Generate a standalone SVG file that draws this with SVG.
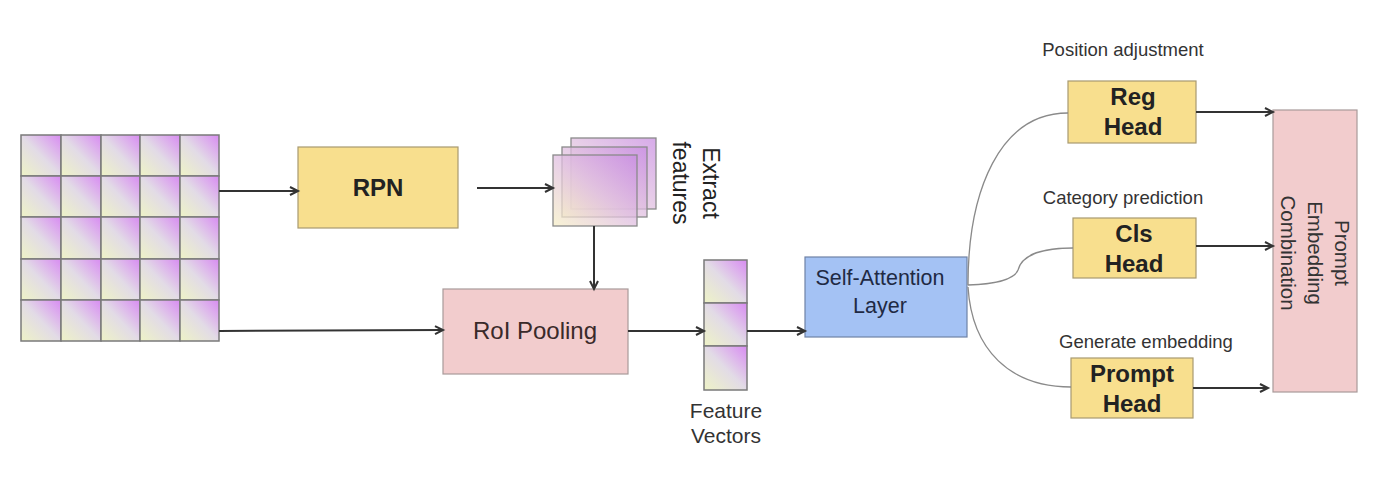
<svg xmlns="http://www.w3.org/2000/svg" width="1387" height="486" viewBox="0 0 1387 486">
<defs>
<linearGradient id="cellg" x1="0" y1="1" x2="1" y2="0">
<stop offset="0" stop-color="#eef3c6"/>
<stop offset="0.5" stop-color="#e2dbe6"/>
<stop offset="1" stop-color="#d88bf2"/>
</linearGradient>
<linearGradient id="frameg" x1="0" y1="1" x2="1" y2="0">
<stop offset="0" stop-color="#f6efc6"/>
<stop offset="0.5" stop-color="#e0bfe0"/>
<stop offset="1" stop-color="#c98ee2"/>
</linearGradient>
<marker id="arr" markerUnits="userSpaceOnUse" markerWidth="12" markerHeight="12" refX="9" refY="5" orient="auto">
<path d="M1,1 L9,5 L1,9" fill="none" stroke="#333" stroke-width="2"/>
</marker>
</defs>
<style>
.cell{fill:url(#cellg);stroke:#7a7a7a;stroke-width:1.5}
.frame{fill:url(#frameg);fill-opacity:0.75;stroke:#8a8a8a;stroke-width:1.3}
.yel{fill:#f8df8e;stroke:#a89a70;stroke-width:1.2}
.pink{fill:#f2cccd;stroke:#a89a9a;stroke-width:1.2}
.blue{fill:#a4c2f4;stroke:#6f82a6;stroke-width:1.2}
.t{font-family:"Liberation Sans",Arial,sans-serif;fill:#222;text-anchor:middle}
.b{font-weight:bold;font-size:24px}
.lab{font-size:18.5px;fill:#333}
.conn{fill:none;stroke:#333;stroke-width:2;marker-end:url(#arr)}
.curve{fill:none;stroke:#8a8a8a;stroke-width:1.3}
</style>
<rect width="1387" height="486" fill="#ffffff"/>

<g id="input-grid">
<rect class="cell" x="21" y="135" width="40" height="41"/>
<rect class="cell" x="61" y="135" width="40" height="41"/>
<rect class="cell" x="101" y="135" width="39" height="41"/>
<rect class="cell" x="140" y="135" width="40" height="41"/>
<rect class="cell" x="180" y="135" width="39" height="41"/>
<rect class="cell" x="21" y="176" width="40" height="41"/>
<rect class="cell" x="61" y="176" width="40" height="41"/>
<rect class="cell" x="101" y="176" width="39" height="41"/>
<rect class="cell" x="140" y="176" width="40" height="41"/>
<rect class="cell" x="180" y="176" width="39" height="41"/>
<rect class="cell" x="21" y="217" width="40" height="42"/>
<rect class="cell" x="61" y="217" width="40" height="42"/>
<rect class="cell" x="101" y="217" width="39" height="42"/>
<rect class="cell" x="140" y="217" width="40" height="42"/>
<rect class="cell" x="180" y="217" width="39" height="42"/>
<rect class="cell" x="21" y="259" width="40" height="41"/>
<rect class="cell" x="61" y="259" width="40" height="41"/>
<rect class="cell" x="101" y="259" width="39" height="41"/>
<rect class="cell" x="140" y="259" width="40" height="41"/>
<rect class="cell" x="180" y="259" width="39" height="41"/>
<rect class="cell" x="21" y="300" width="40" height="41"/>
<rect class="cell" x="61" y="300" width="40" height="41"/>
<rect class="cell" x="101" y="300" width="39" height="41"/>
<rect class="cell" x="140" y="300" width="40" height="41"/>
<rect class="cell" x="180" y="300" width="39" height="41"/>
</g>

<g id="rpn">
<rect class="yel" x="298" y="147" width="160" height="81"/>
<text class="t b" x="378" y="196">RPN</text>
</g>

<g id="extract-features">
<rect class="frame" x="571" y="138" width="85" height="71"/>
<rect class="frame" x="562" y="147" width="85" height="70"/>
<rect class="frame" x="553" y="155" width="84" height="71"/>
<text class="t" style="font-size:23px" transform="translate(703,183) rotate(90)">Extract</text>
<text class="t" style="font-size:23px" transform="translate(673,183) rotate(90)">features</text>
</g>

<g id="roi-pooling">
<rect class="pink" x="443" y="289" width="185" height="85"/>
<text class="t" style="font-size:24px;fill:#3a2a2a" x="535" y="339">RoI Pooling</text>
</g>

<g id="feature-vectors">
<rect class="cell" x="704" y="260" width="43" height="43"/>
<rect class="cell" x="704" y="303" width="43" height="43"/>
<rect class="cell" x="704" y="346" width="43" height="44"/>
<text class="t" style="font-size:21px;fill:#333" x="726" y="418">Feature</text>
<text class="t" style="font-size:21px;fill:#333" x="726" y="443">Vectors</text>
</g>

<g id="self-attention">
<rect class="blue" x="805" y="257" width="162" height="80"/>
<text class="t" style="font-size:21.5px;fill:#1f2a44" x="880" y="285">Self-Attention</text>
<text class="t" style="font-size:21.5px;fill:#1f2a44" x="880" y="313">Layer</text>
</g>

<g id="reg-head">
<text class="t lab" x="1123" y="56">Position adjustment</text>
<rect class="yel" x="1068" y="81" width="128" height="62"/>
<text class="t b" x="1133" y="105">Reg</text>
<text class="t b" x="1133" y="135">Head</text>
</g>

<g id="cls-head">
<text class="t lab" x="1123" y="204">Category prediction</text>
<rect class="yel" x="1073" y="218" width="123" height="60"/>
<text class="t b" x="1134" y="242">Cls</text>
<text class="t b" x="1134" y="272">Head</text>
</g>

<g id="prompt-head">
<text class="t lab" x="1146" y="348">Generate embedding</text>
<rect class="yel" x="1071" y="358" width="122" height="60"/>
<text class="t b" x="1132" y="382">Prompt</text>
<text class="t b" x="1132" y="412">Head</text>
</g>

<g id="prompt-embedding-combination">
<rect class="pink" x="1273" y="110" width="84" height="282"/>
<text class="t" style="font-size:20.5px;fill:#333" transform="translate(1335,253) rotate(90)">Prompt</text>
<text class="t" style="font-size:20.5px;fill:#333" transform="translate(1308,253) rotate(90)">Embedding</text>
<text class="t" style="font-size:20.5px;fill:#333" transform="translate(1281,253) rotate(90)">Combination</text>
</g>

<g id="connectors">
<path class="conn" d="M219,191 L298,191"/>
<path class="conn" d="M219,331 L443,330"/>
<path class="conn" d="M477,188 L553,188"/>
<path class="conn" d="M594,226 L594,289"/>
<path class="conn" d="M628,331 L704,331"/>
<path class="conn" d="M747,331 L805,331"/>
<path class="conn" d="M1196,112 L1273,112"/>
<path class="conn" d="M1196,246 L1273,246"/>
<path class="conn" d="M1193,388 L1268,388"/>
<path class="curve" d="M968,285 C968,190 1000,113 1068,113"/>
<path class="curve" d="M968,285 C992,284 1014,281 1018,270 C1022,254 1045,248 1073,248"/>
<path class="curve" d="M968,287 C972,350 1010,387 1071,387"/>
</g>
</svg>
